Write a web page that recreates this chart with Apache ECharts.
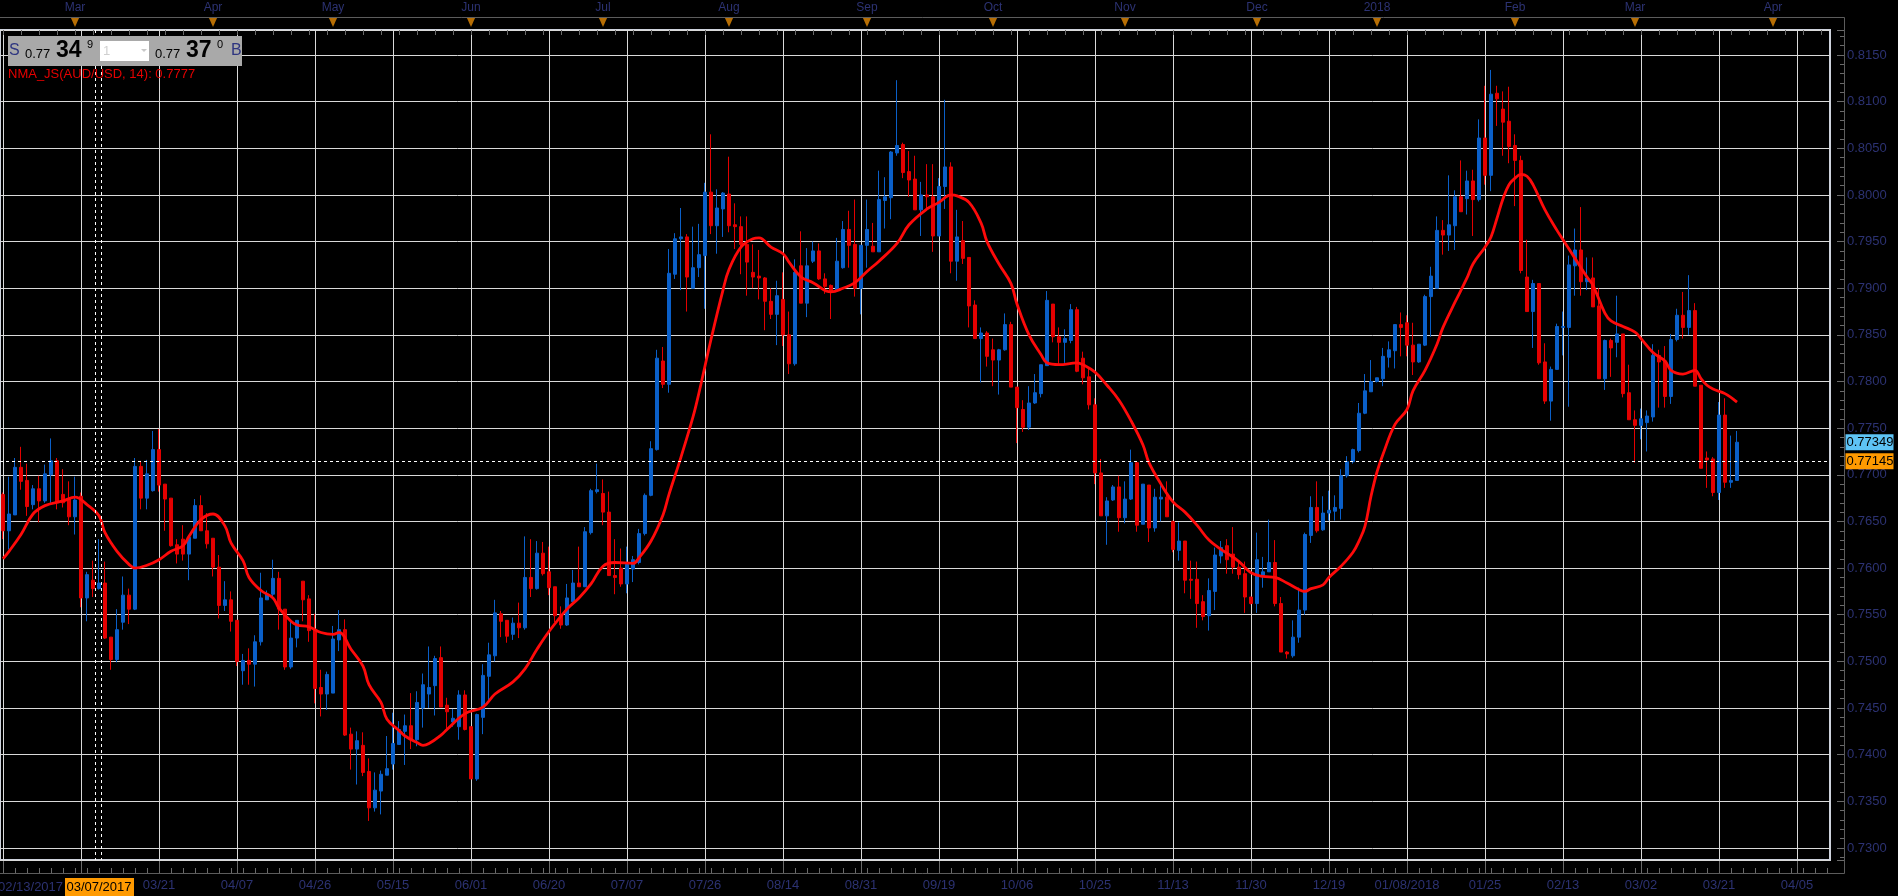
<!DOCTYPE html>
<html><head><meta charset="utf-8">
<script src="https://cdn.jsdelivr.net/npm/echarts@6/dist/echarts.min.js"></script>
<style>html,body{margin:0;padding:0;background:#000;overflow:hidden}#c{width:1898px;height:896px}</style>
</head><body><div id="c"></div>
<script>
// ---------- DATA ----------
const firstDay = '2017-02-13';
const lastDataDay = '2018-03-26';
const holidays = ['2017-12-25'];
const slotCount = 305;            // trading days + future calendar slots shown on the axis
const crossDate = '2017-03-07';
const crossPrice = 0.77145;
const lastPrice = 0.77349;
const labelEvery = 13;
const yMin = 0.72871, yMax = 0.81768;
const bidAsk = { sBig: '34', sSup: '9', bBig: '37', bSup: '0', head: '0.77' };
const maLabel = 'NMA_JS(AUD/USD, 14): 0.7777';

// daily candles [open, high, low, close]
const ohlc = [
[0.7679,0.7681,0.7631,0.7640],[0.7640,0.7698,0.7620,0.7658],[0.7657,0.7718,0.7657,0.7708],[0.7708,0.7730,0.7684,0.7693],
[0.7694,0.7712,0.7656,0.7666],[0.7668,0.7689,0.7663,0.7685],[0.7685,0.7699,0.7649,0.7672],[0.7672,0.7711,0.7670,0.7701],
[0.7700,0.7739,0.7670,0.7715],[0.7715,0.7718,0.7663,0.7670],[0.7679,0.7706,0.7665,0.7670],[0.7674,0.7693,0.7646,0.7655],
[0.7655,0.7698,0.7636,0.7673],[0.7677,0.7681,0.7558,0.7568],[0.7568,0.7596,0.7543,0.7593],[0.7587,0.7608,0.7569,0.7578],
[0.7578,0.7631,0.7577,0.7584],[0.7584,0.7607,0.7524,0.7525],[0.7526,0.7526,0.7491,0.7502],[0.7502,0.7556,0.7499,0.7534],
[0.7542,0.7591,0.7534,0.7571],[0.7571,0.7578,0.7540,0.7556],[0.7556,0.7718,0.7555,0.7709],[0.7709,0.7715,0.7663,0.7675],
[0.7675,0.7716,0.7663,0.7701],[0.7683,0.7747,0.7682,0.7727],[0.7727,0.7749,0.7682,0.7689],[0.7690,0.7690,0.7640,0.7674],
[0.7675,0.7675,0.7623,0.7624],[0.7625,0.7631,0.7605,0.7615],[0.7631,0.7646,0.7608,0.7615],[0.7615,0.7633,0.7587,0.7633],
[0.7632,0.7674,0.7632,0.7667],[0.7667,0.7678,0.7640,0.7640],[0.7640,0.7659,0.7621,0.7626],[0.7632,0.7632,0.7591,0.7601],
[0.7601,0.7614,0.7546,0.7560],[0.7560,0.7586,0.7554,0.7566],[0.7566,0.7575,0.7532,0.7543],[0.7544,0.7544,0.7495,0.7500],
[0.7490,0.7508,0.7475,0.7501],[0.7501,0.7514,0.7475,0.7497],[0.7497,0.7528,0.7473,0.7521],[0.7521,0.7595,0.7517,0.7568],
[0.7566,0.7576,0.7566,0.7572],[0.7572,0.7609,0.7570,0.7589],[0.7589,0.7596,0.7534,0.7556],[0.7556,0.7556,0.7491,0.7494],
[0.7494,0.7545,0.7492,0.7525],[0.7525,0.7544,0.7515,0.7544],[0.7586,0.7586,0.7543,0.7566],[0.7567,0.7571,0.7521,0.7533],
[0.7534,0.7551,0.7455,0.7471],[0.7472,0.7491,0.7441,0.7465],[0.7465,0.7489,0.7448,0.7486],[0.7466,0.7538,0.7466,0.7524],
[0.7523,0.7555,0.7511,0.7534],[0.7534,0.7545,0.7420,0.7421],[0.7422,0.7429,0.7384,0.7406],[0.7406,0.7425,0.7368,0.7415],
[0.7410,0.7424,0.7377,0.7381],[0.7382,0.7396,0.7329,0.7343],[0.7343,0.7381,0.7339,0.7362],[0.7361,0.7383,0.7336,0.7379],
[0.7378,0.7420,0.7378,0.7385],[0.7390,0.7445,0.7384,0.7412],[0.7411,0.7436,0.7411,0.7427],[0.7425,0.7443,0.7389,0.7431],
[0.7431,0.7466,0.7406,0.7416],[0.7416,0.7468,0.7409,0.7456],[0.7450,0.7487,0.7429,0.7475],[0.7465,0.7516,0.7450,0.7472],
[0.7474,0.7506,0.7442,0.7503],[0.7504,0.7516,0.7451,0.7451],[0.7453,0.7461,0.7427,0.7446],[0.7435,0.7449,0.7430,0.7439],
[0.7430,0.7469,0.7416,0.7464],[0.7464,0.7469,0.7426,0.7427],[0.7430,0.7430,0.7374,0.7374],[0.7374,0.7444,0.7372,0.7443],
[0.7440,0.7497,0.7422,0.7485],[0.7484,0.7520,0.7457,0.7507],[0.7506,0.7566,0.7500,0.7552],[0.7551,0.7554,0.7526,0.7543],
[0.7544,0.7544,0.7520,0.7527],[0.7529,0.7547,0.7523,0.7541],[0.7541,0.7563,0.7525,0.7536],[0.7536,0.7634,0.7534,0.7590],
[0.7590,0.7631,0.7569,0.7578],[0.7578,0.7629,0.7577,0.7616],[0.7616,0.7628,0.7592,0.7594],[0.7596,0.7623,0.7571,0.7579],
[0.7580,0.7580,0.7542,0.7549],[0.7550,0.7559,0.7535,0.7539],[0.7539,0.7583,0.7538,0.7568],[0.7564,0.7598,0.7563,0.7584],
[0.7584,0.7623,0.7580,0.7580],[0.7580,0.7644,0.7580,0.7639],[0.7638,0.7685,0.7636,0.7683],[0.7682,0.7712,0.7680,0.7684],
[0.7680,0.7695,0.7646,0.7660],[0.7660,0.7682,0.7592,0.7592],[0.7592,0.7631,0.7572,0.7590],[0.7600,0.7621,0.7580,0.7583],
[0.7583,0.7623,0.7573,0.7604],[0.7599,0.7613,0.7585,0.7609],[0.7606,0.7642,0.7604,0.7637],[0.7637,0.7680,0.7635,0.7678],
[0.7678,0.7736,0.7677,0.7728],[0.7727,0.7834,0.7726,0.7825],[0.7822,0.7837,0.7793,0.7797],[0.7797,0.7942,0.7788,0.7916],
[0.7915,0.7959,0.7910,0.7953],[0.7953,0.7986,0.7898,0.7955],[0.7955,0.7958,0.7875,0.7912],[0.7900,0.7966,0.7900,0.7922],
[0.7922,0.7969,0.7912,0.7936],[0.7935,0.8013,0.7878,0.8003],[0.8003,0.8065,0.7958,0.7967],[0.7967,0.8006,0.7937,0.7986],
[0.7985,0.8003,0.7955,0.8002],[0.8001,0.8041,0.7960,0.7967],[0.7968,0.7991,0.7942,0.7966],[0.7966,0.7977,0.7915,0.7947],
[0.7947,0.7977,0.7892,0.7928],[0.7917,0.7947,0.7900,0.7912],[0.7913,0.7941,0.7888,0.7911],[0.7911,0.7912,0.7855,0.7886],
[0.7886,0.7900,0.7867,0.7872],[0.7872,0.7908,0.7839,0.7892],[0.7888,0.7917,0.7838,0.7850],[0.7850,0.7875,0.7808,0.7819],
[0.7819,0.7931,0.7817,0.7917],[0.7924,0.7961,0.7884,0.7884],[0.7884,0.7943,0.7869,0.7924],[0.7929,0.7950,0.7927,0.7940],
[0.7940,0.7948,0.7909,0.7910],[0.7910,0.7916,0.7894,0.7902],[0.7903,0.7904,0.7867,0.7897],[0.7898,0.7954,0.7896,0.7929],
[0.7922,0.7972,0.7921,0.7963],[0.7963,0.7983,0.7922,0.7946],[0.7947,0.7995,0.7891,0.7900],[0.7900,0.7946,0.7872,0.7946],
[0.7946,0.7995,0.7922,0.7963],[0.7945,0.7970,0.7939,0.7939],[0.7939,0.8026,0.7939,0.7995],[0.7994,0.8019,0.7964,0.7998],
[0.7997,0.8047,0.7974,0.8046],[0.8045,0.8123,0.8042,0.8053],[0.8054,0.8056,0.8018,0.8024],[0.8025,0.8047,0.7998,0.8016],
[0.8017,0.8042,0.7984,0.7984],[0.7984,0.8014,0.7956,0.8000],[0.8000,0.8033,0.7985,0.7998],[0.7998,0.8033,0.7939,0.7956],
[0.7956,0.8018,0.7956,0.8009],[0.8009,0.8102,0.7985,0.8030],[0.8030,0.8035,0.7916,0.7929],[0.7929,0.7984,0.7908,0.7955],
[0.7951,0.7972,0.7926,0.7932],[0.7933,0.7933,0.7858,0.7881],[0.7882,0.7887,0.7846,0.7846],[0.7846,0.7858,0.7799,0.7852],
[0.7852,0.7854,0.7816,0.7827],[0.7834,0.7846,0.7795,0.7823],[0.7823,0.7835,0.7786,0.7834],[0.7834,0.7873,0.7833,0.7861],
[0.7861,0.7864,0.7794,0.7794],[0.7794,0.7794,0.7734,0.7772],[0.7770,0.7780,0.7746,0.7751],[0.7751,0.7795,0.7748,0.7777],
[0.7777,0.7808,0.7776,0.7788],[0.7787,0.7818,0.7783,0.7818],[0.7817,0.7897,0.7817,0.7887],[0.7883,0.7883,0.7842,0.7848],
[0.7848,0.7858,0.7818,0.7842],[0.7842,0.7856,0.7820,0.7846],[0.7844,0.7883,0.7841,0.7877],[0.7877,0.7880,0.7810,0.7811],
[0.7825,0.7832,0.7797,0.7804],[0.7805,0.7814,0.7770,0.7775],[0.7775,0.7782,0.7690,0.7702],[0.7702,0.7717,0.7656,0.7656],
[0.7656,0.7676,0.7625,0.7672],[0.7673,0.7689,0.7672,0.7687],[0.7687,0.7699,0.7639,0.7654],[0.7654,0.7693,0.7648,0.7674],
[0.7674,0.7727,0.7673,0.7713],[0.7713,0.7713,0.7639,0.7646],[0.7647,0.7690,0.7647,0.7690],[0.7689,0.7689,0.7628,0.7643],
[0.7643,0.7685,0.7639,0.7676],[0.7674,0.7689,0.7650,0.7676],[0.7676,0.7693,0.7655,0.7655],[0.7650,0.7651,0.7617,0.7620],
[0.7619,0.7649,0.7608,0.7629],[0.7629,0.7629,0.7573,0.7587],[0.7588,0.7608,0.7567,0.7587],[0.7588,0.7607,0.7536,0.7562],
[0.7564,0.7571,0.7544,0.7548],[0.7549,0.7589,0.7533,0.7576],[0.7575,0.7622,0.7555,0.7614],[0.7613,0.7629,0.7605,0.7622],
[0.7624,0.7631,0.7594,0.7609],[0.7615,0.7644,0.7594,0.7601],[0.7601,0.7607,0.7588,0.7593],[0.7594,0.7607,0.7552,0.7569],
[0.7569,0.7569,0.7561,0.7562],[0.7562,0.7638,0.7552,0.7609],[0.7592,0.7612,0.7579,0.7596],[0.7596,0.7652,0.7596,0.7606],
[0.7606,0.7630,0.7559,0.7562],[0.7562,0.7569,0.7510,0.7510],[0.7510,0.7511,0.7503,0.7508],[0.7506,0.7544,0.7504,0.7526],
[0.7526,0.7579,0.7520,0.7555],[0.7555,0.7638,0.7550,0.7636],[0.7635,0.7677,0.7627,0.7665],[0.7665,0.7693,0.7638,0.7640],
[0.7641,0.7677,0.7640,0.7659],[0.7659,0.7683,0.7651,0.7662],[0.7661,0.7678,0.7651,0.7665],[0.7664,0.7706,0.7652,0.7699],
[0.7699,0.7720,0.7697,0.7714],[0.7714,0.7728,0.7712,0.7727],[0.7726,0.7777,0.7724,0.7766],[0.7766,0.7808,0.7765,0.7790],
[0.7789,0.7823,0.7789,0.7800],[0.7800,0.7804,0.7799,0.7804],[0.7803,0.7836,0.7795,0.7827],[0.7826,0.7843,0.7815,0.7834],
[0.7833,0.7861,0.7814,0.7861],[0.7861,0.7874,0.7827,0.7858],[0.7863,0.7871,0.7827,0.7839],[0.7839,0.7863,0.7807,0.7821],
[0.7821,0.7840,0.7820,0.7840],[0.7839,0.7893,0.7838,0.7891],[0.7891,0.7923,0.7848,0.7913],[0.7900,0.7977,0.7900,0.7962],
[0.7962,0.7973,0.7936,0.7957],[0.7957,0.8021,0.7940,0.7968],[0.7967,0.8005,0.7941,0.7998],[0.7998,0.8037,0.7982,0.7982],
[0.7996,0.8026,0.7979,0.8015],[0.8015,0.8027,0.7956,0.7995],[0.7995,0.8081,0.7993,0.8061],[0.8061,0.8117,0.8011,0.8021],
[0.8021,0.8134,0.8004,0.8108],[0.8109,0.8117,0.8074,0.8103],[0.8092,0.8111,0.8042,0.8078],[0.8079,0.8116,0.8034,0.8052],
[0.8053,0.8065,0.7988,0.8037],[0.8037,0.8042,0.7916,0.7919],[0.7912,0.7952,0.7875,0.7875],[0.7875,0.7909,0.7836,0.7905],
[0.7905,0.7905,0.7818,0.7820],[0.7821,0.7841,0.7776,0.7779],[0.7779,0.7816,0.7758,0.7813],[0.7813,0.7862,0.7813,0.7859],
[0.7858,0.7875,0.7828,0.7859],[0.7858,0.7935,0.7773,0.7925],[0.7924,0.7964,0.7892,0.7941],[0.7941,0.7987,0.7892,0.7907],
[0.7907,0.7933,0.7898,0.7911],[0.7911,0.7933,0.7880,0.7880],[0.7881,0.7900,0.7803,0.7803],[0.7803,0.7845,0.7791,0.7844],
[0.7844,0.7846,0.7805,0.7836],[0.7842,0.7892,0.7826,0.7851],[0.7851,0.7851,0.7783,0.7787],[0.7788,0.7818,0.7759,0.7759],
[0.7759,0.7769,0.7713,0.7753],[0.7753,0.7771,0.7738,0.7760],[0.7756,0.7769,0.7725,0.7763],[0.7762,0.7840,0.7757,0.7828],
[0.7828,0.7834,0.7772,0.7821],[0.7822,0.7838,0.7772,0.7784],[0.7784,0.7851,0.7776,0.7845],[0.7845,0.7878,0.7843,0.7871],
[0.7871,0.7896,0.7846,0.7858],[0.7858,0.7914,0.7850,0.7876],[0.7876,0.7884,0.7795,0.7795],[0.7796,0.7796,0.7707,0.7707],
[0.7718,0.7725,0.7686,0.7716],[0.7717,0.7719,0.7677,0.7681],[0.7681,0.7778,0.7673,0.7764],[0.7764,0.7782,0.7686,0.7692],
[0.7692,0.7742,0.7686,0.7694],[0.7694,0.7747,0.7694,0.77349]
];

// NMA_JS(14) line: [day index, value]
const maPoints = [
[0,0.7610],[1,0.7618],[3,0.7636],[5,0.7658],[7,0.7667],[10,0.7672],[12,0.7676],[14,0.7668],[16,0.7656],[17,0.7638],
[19,0.7618],[21,0.7604],[22,0.7600],[24,0.7603],[26,0.7609],[28,0.7618],[30,0.7624],[31,0.7634],[33,0.7652],[35,0.7658],
[37,0.7645],[38,0.7627],[40,0.7608],[41,0.7590],[43,0.7576],[45,0.7568],[46,0.7557],[48,0.7543],[49,0.7539],[51,0.7537],
[53,0.7531],[55,0.7529],[56,0.7531],[58,0.7513],[60,0.7495],[61,0.7475],[63,0.7456],[64,0.7438],[66,0.7426],[67,0.7420],
[69,0.7413],[70,0.7410],[71,0.7412],[73,0.7421],[74,0.7427],[77,0.7444],[80,0.7451],[82,0.7465],[85,0.7478],[87,0.7492],
[89,0.7513],[91,0.7532],[94,0.7556],[96,0.7568],[98,0.7583],[100,0.7602],[102,0.7606],[105,0.7605],[106,0.7611],[108,0.7629],
[110,0.7657],[111,0.7679],[113,0.7719],[115,0.7762],[116,0.7788],[118,0.7845],[120,0.7898],[121,0.7920],[123,0.7944],[125,0.7953],
[126,0.7954],[128,0.7944],[130,0.7937],[131,0.7928],[133,0.7912],[135,0.7906],[138,0.7896],[140,0.7900],[142,0.7906],[144,0.7918],
[146,0.7929],[149,0.7948],[151,0.7968],[154,0.7985],[156,0.7992],[158,0.8000],[159,0.7999],[161,0.7992],[163,0.7970],[164,0.7950],
[166,0.7926],[168,0.7905],[169,0.7883],[171,0.7850],[173,0.7829],[174,0.7820],[176,0.7818],[179,0.7820],[180,0.7818],[182,0.7810],
[184,0.7796],[186,0.7780],[188,0.7758],[190,0.7732],[191,0.7713],[193,0.7690],[195,0.7671],[197,0.7660],[199,0.7646],[201,0.7630],
[203,0.7620],[204,0.7616],[206,0.7607],[208,0.7595],[210,0.7591],[212,0.7590],[214,0.7584],[216,0.7577],[217,0.7575],[218,0.7578],
[220,0.7582],[221,0.7590],[223,0.7602],[225,0.7617],[226,0.7629],[227,0.7645],[228,0.7677],[229,0.7703],[230,0.7722],[232,0.7754],
[234,0.7770],[235,0.7790],[237,0.7812],[239,0.7840],[240,0.7858],[242,0.7885],[244,0.7911],[245,0.7926],[247,0.7944],[248,0.7955],
[249,0.7975],[250,0.7996],[251,0.8011],[252,0.8018],[253,0.8022],[254,0.8020],[255,0.8011],[257,0.7984],[259,0.7962],[260,0.7952],
[262,0.7932],[264,0.7912],[265,0.7903],[267,0.7873],[268,0.7865],[270,0.7859],[272,0.7853],[273,0.7846],[275,0.7831],[277,0.7822],
[278,0.7812],[280,0.7808],[282,0.7812],[283,0.7803],[284,0.7796],[285,0.7792],[287,0.7787],[289,0.7778]
];

const monthNames = ['Jan','Feb','Mar','Apr','May','Jun','Jul','Aug','Sep','Oct','Nov','Dec'];

// ---------- CATEGORIES (calendar) ----------
function pad(n){return (n<10?'0':'')+n;}
const dates = [];
(function(){
  const p = firstDay.split('-').map(Number);
  const d = new Date(Date.UTC(p[0], p[1]-1, p[2]));
  while (dates.length < slotCount) {
    const s = d.getUTCFullYear()+'-'+pad(d.getUTCMonth()+1)+'-'+pad(d.getUTCDate());
    const wd = d.getUTCDay();
    if (s > lastDataDay) dates.push(s);
    else if (wd !== 0 && wd !== 6 && holidays.indexOf(s) < 0) dates.push(s);
    d.setUTCDate(d.getUTCDate()+1);
  }
})();
const monthStarts = [];
for (let i = 1; i < dates.length; i++) if (dates[i].slice(5,7) !== dates[i-1].slice(5,7)) monthStarts.push(i);
const monthSet = new Set(monthStarts);

// ---------- CHART ----------
const FONT = '"Liberation Sans", Arial, sans-serif';
const NAVY = '#2c3272';
const GRID = '#d9d9d9';
const UP = '#0a5fc8', DOWN = '#e40000';

const chart = echarts.init(document.getElementById('c'), null, {renderer: 'canvas'});
let firstJanLabel = null;
for (let i = 0; i < dates.length; i += labelEvery) if (dates[i].slice(5,7) === '01') { firstJanLabel = i; break; }

function fmtDate(v, withYear) {
  const s = v.slice(5,7) + '/' + v.slice(8,10);
  return withYear ? s + '/' + v.slice(0,4) : s;
}
function bottomLabel(v) {
  const i = dates.indexOf(v);
  return fmtDate(v, i === firstJanLabel);
}

const option = {
  backgroundColor: '#000',
  animation: false,
  textStyle: {fontFamily: FONT},
  grid: [
    {left: 0, right: 68, top: 30, bottom: 36, show: true, borderColor: '#cdd2dc', borderWidth: 2, backgroundColor: 'transparent'},
    {left: 0, right: 68, top: 17, height: 13, show: false}
  ],
  xAxis: [
    {
      type: 'category', data: dates, gridIndex: 0, boundaryGap: true, position: 'bottom', offset: 13,
      axisLine: {show: false},
      axisTick: {show: true, inside: true, alignWithLabel: true, length: 12, interval: (i) => i % labelEvery === 0, lineStyle: {color: '#6a6a6a'}},
      // first label (start date) is drawn left-aligned at the plot edge below; the 03/02 label sits under the crosshair date
      axisLabel: {interval: (i) => i % labelEvery === 0 && i !== 0 && i !== labelEvery, formatter: bottomLabel, color: NAVY, fontSize: 13, margin: 6, fontFamily: FONT},
      splitLine: {show: true, alignWithLabel: true, interval: (i) => i % labelEvery === 0, lineStyle: {color: GRID, width: 1}}
    },
    {
      type: 'category', data: dates, gridIndex: 0, boundaryGap: true, position: 'bottom', offset: 13,
      axisLine: {show: false},
      axisTick: {show: true, inside: true, alignWithLabel: true, length: 5, interval: (i) => i % labelEvery !== 0 && i % 2 === 0, lineStyle: {color: '#6a6a6a'}},
      axisLabel: {show: false}, splitLine: {show: false}
    },
    {
      type: 'category', data: dates, gridIndex: 1, boundaryGap: true, position: 'top',
      axisLine: {show: false},
      axisTick: {show: true, inside: true, alignWithLabel: true, length: 5, interval: (i) => i % 3 === 0, lineStyle: {color: '#6a6a6a'}},
      axisLabel: {interval: (i) => monthSet.has(i), formatter: (v) => v.slice(5,7) === '01' ? v.slice(0,4) : monthNames[+v.slice(5,7)-1], color: NAVY, fontSize: 12, margin: 3, fontFamily: FONT},
      splitLine: {show: false}
    }
  ],
  yAxis: [
    {
      type: 'value', gridIndex: 0, position: 'right', min: yMin, max: yMax, splitNumber: 18, offset: 14,
      axisLine: {show: false},
      axisTick: {show: true, inside: true, length: 7, lineStyle: {color: '#6a6a6a'}},
      minorTick: {show: true, splitNumber: 5, length: 4, lineStyle: {color: '#6a6a6a'}},
      axisLabel: {formatter: (v) => v.toFixed(4), showMinLabel: false, showMaxLabel: false, color: NAVY, fontSize: 13, margin: 3, fontFamily: FONT},
      splitLine: {show: true, lineStyle: {color: GRID, width: 1}}
    },
    {type: 'value', gridIndex: 1, min: 0, max: 1, show: false}
  ],
  series: [
    {
      type: 'candlestick', xAxisIndex: 0, yAxisIndex: 0, barWidth: 4,
      data: ohlc.map(r => [r[0], r[3], r[2], r[1]]),
      itemStyle: {color: UP, color0: DOWN, borderColor: UP, borderColor0: DOWN, borderWidth: 1}
    },
    {
      type: 'line', xAxisIndex: 0, yAxisIndex: 0, data: maPoints, smooth: 0.4, showSymbol: false,
      lineStyle: {color: '#ff0a0a', width: 2.8}, z: 5
    },
    {
      type: 'scatter', xAxisIndex: 2, yAxisIndex: 1, data: monthStarts.map(i => [i, 0.62]),
      symbol: 'triangle', symbolRotate: 180, symbolSize: [9, 10], itemStyle: {color: '#e38a06'}, z: 5
    }
  ]
};
chart.setOption(option);

// ---------- overlays positioned through the chart's own scales ----------
const cx = chart.convertToPixel({xAxisIndex: 0}, crossDate);
const hy = chart.convertToPixel({yAxisIndex: 0}, crossPrice);
const ly = chart.convertToPixel({yAxisIndex: 0}, lastPrice);
const plotTop = 30, plotBottom = 860, plotRight = 1830, axisX = 1844.5;

function txt(x, y, s, size, color, bold, align, vAlign) {
  return {type: 'text', x: x, y: y, z: 120, style: {text: s, fill: color, font: (bold ? 'bold ' : '') + size + 'px ' + FONT, align: align || 'left', verticalAlign: vAlign || 'middle'}};
}
const dash = [3, 3];
chart.setOption({
  graphic: [
    {type: 'polyline', z: 110, shape: {points: [[0, 17.5], [axisX, 17.5], [axisX, 873.5], [0, 873.5]]}, style: {stroke: '#5c5c5c', lineWidth: 1, fill: null}},
    {type: 'line', z: 110, shape: {x1: Math.round(cx - 3) - 0.5, y1: plotTop, x2: Math.round(cx - 3) - 0.5, y2: plotBottom}, style: {stroke: '#ffffff', lineWidth: 1, lineDash: dash}},
    {type: 'line', z: 110, shape: {x1: Math.round(cx + 3) - 0.5, y1: plotTop, x2: Math.round(cx + 3) - 0.5, y2: plotBottom}, style: {stroke: '#ffffff', lineWidth: 1, lineDash: dash}},
    {type: 'line', z: 110, shape: {x1: 0, y1: Math.round(hy) + 0.5, x2: plotRight, y2: Math.round(hy) + 0.5}, style: {stroke: '#ffffff', lineWidth: 1, lineDash: dash}},
    {type: 'rect', z: 115, shape: {x: axisX + 1, y: ly - 8, width: 48, height: 16}, style: {fill: '#5ec3f5'}},
    txt(axisX + 2, ly, lastPrice.toFixed(5), 13, '#000', false),
    {type: 'rect', z: 115, shape: {x: axisX + 1, y: hy - 8, width: 48, height: 16}, style: {fill: '#ff9a00'}},
    txt(axisX + 2, hy, crossPrice.toFixed(5), 13, '#000', false),
    // start-date label, left-aligned at the plot edge
    txt(-2, 887, fmtDate(dates[0], true), 13, NAVY, false, 'left'),
    {type: 'rect', z: 115, shape: {x: cx - 34, y: 878, width: 69, height: 18}, style: {fill: '#ff9a00'}},
    txt(cx, 887, fmtDate(crossDate, true), 13, '#000', false, 'center'),
    // bid / ask box
    {type: 'rect', z: 115, shape: {x: 8, y: 36, width: 234, height: 30}, style: {fill: '#a9a9a9'}},
    txt(9, 51, 'S', 16, '#2e3580', false),
    txt(25, 54, bidAsk.head, 13, '#000', false),
    txt(56, 51, bidAsk.sBig, 23, '#000', true),
    txt(87, 45, bidAsk.sSup, 11, '#000', false),
    {type: 'rect', z: 115, shape: {x: 100, y: 41, width: 49, height: 20}, style: {fill: '#ffffff'}},
    txt(103, 51, '1', 13, '#d0d0d0', false),
    {type: 'polygon', z: 120, shape: {points: [[141, 49], [147, 49], [144, 52]]}, style: {fill: '#c8c8c8'}},
    txt(155, 54, bidAsk.head, 13, '#000', false),
    txt(186, 51, bidAsk.bBig, 23, '#000', true),
    txt(217, 45, bidAsk.bSup, 11, '#000', false),
    txt(231, 51, 'B', 16, '#2e3580', false),
    txt(8, 74, maLabel, 13, '#e60000', false)
  ]
});
</script>
</body></html>
